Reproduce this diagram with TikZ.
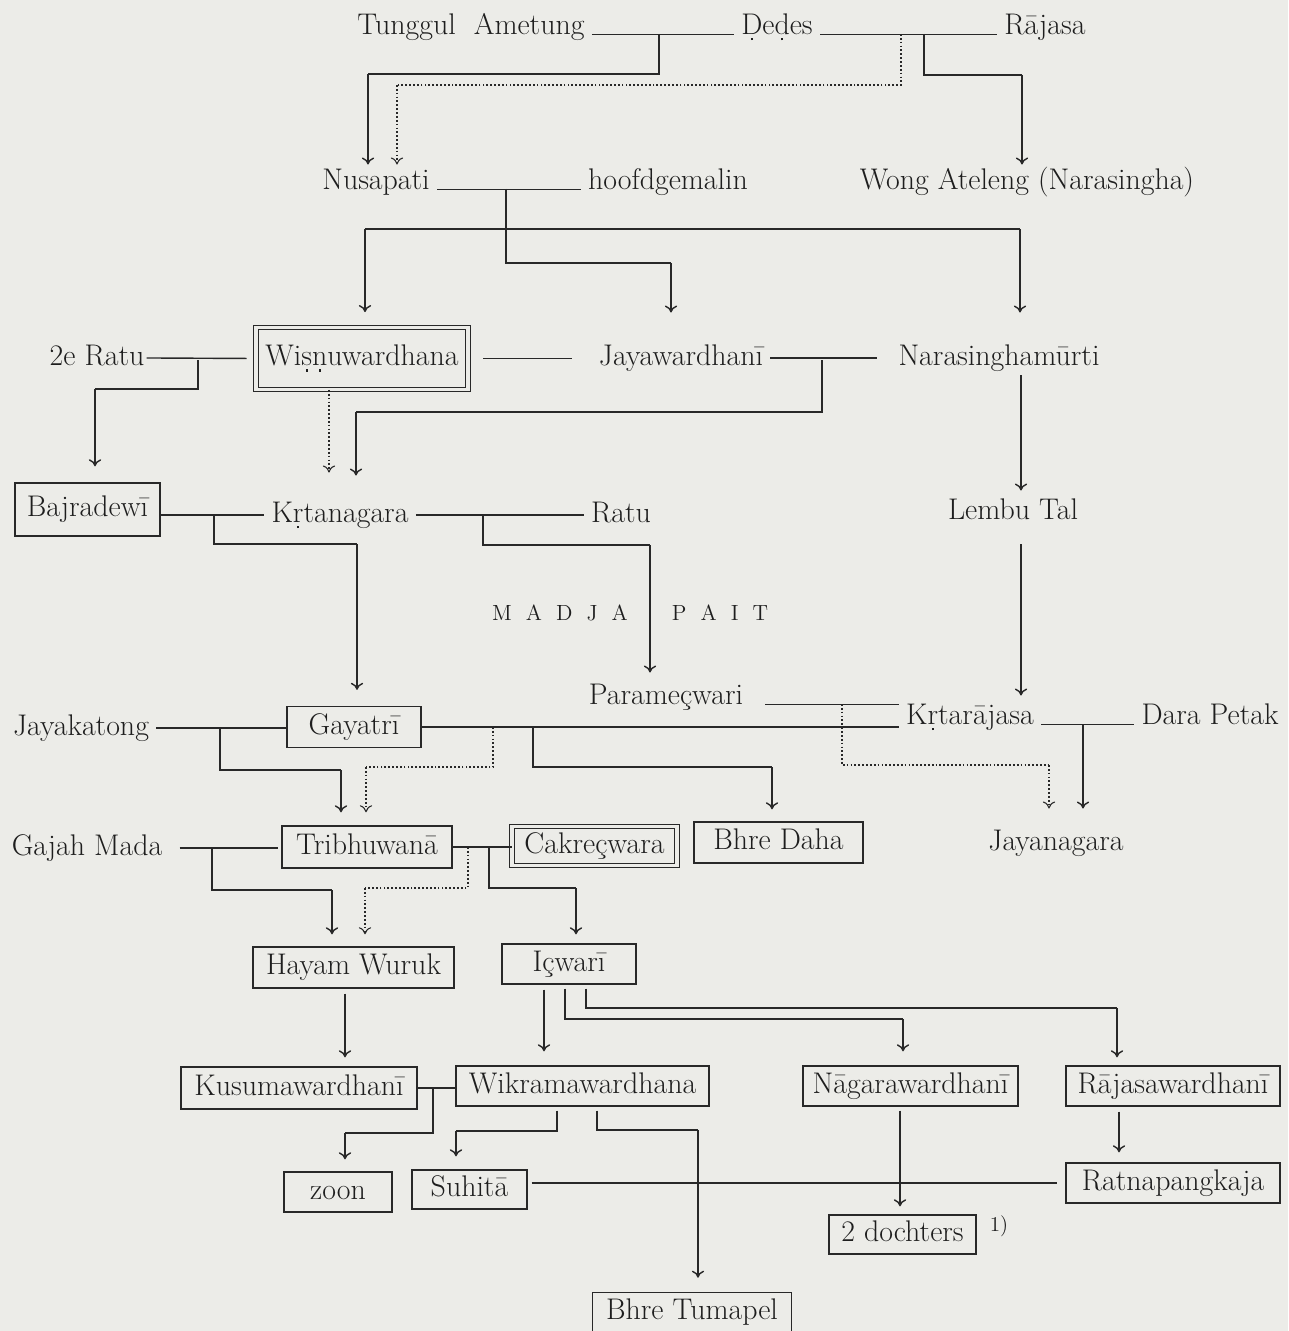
\documentclass[tikz,border=0pt]{standalone}
\usetikzlibrary{arrows.meta}
\definecolor{bgc}{RGB}{236,236,232}
\definecolor{ink}{RGB}{40,40,40}
\definecolor{txtc}{RGB}{30,30,30}
\newcommand\udot[1]{\oalign{#1\crcr\hidewidth\rule{1.4pt}{1.4pt}\hidewidth}}
\begin{document}
\begin{tikzpicture}[x=0.02cm, y=-0.02cm,
  txt/.style={font=\fontsize{17}{20}\selectfont, text=txtc, inner xsep=4pt, inner ysep=2pt, text height=12pt, text depth=3.5pt},
  bx/.style={txt, draw=ink, line width=0.8pt, inner xsep=0pt},
  dbx/.style={txt, draw=ink, line width=0.5pt, double=bgc, double distance=2.2pt, inner xsep=0pt},
  ln/.style={draw=ink, line width=0.8pt},
  arr/.style={ln, -{To[length=4pt,width=7pt]}},
  dotln/.style={draw=ink, line width=0.6pt, dash pattern=on 1pt off 1.2pt},
  dotarr/.style={dotln, -{To[length=4pt,width=7pt]}},
  spaced/.style={font=\fontsize{12.5}{15}\selectfont, text=txtc}
]
\path[use as bounding box, fill=bgc] (0,0) rectangle (1288,1331);

% ---------- row 1
\node[txt] (tung) at (471,27) {Tunggul\ \ Ametung};
\node[txt] (dedes) at (777,27) {\udot{D}e\udot{d}es};
\node[txt] (raja) at (1045,27) {Rājasa};
% ---------- row 2
\node[txt] (nusa) at (376,182) {Nusapati};
\node[txt] (hoof) at (668,182) {hoofdgemalin};
\node[txt] (wong) at (1027,182) {Wong Ateleng (Narasingha)};
% ---------- row 3
\node[txt] (ratu2) at (97,358) {2e Ratu};
\node[dbx, minimum width=4.24cm, minimum height=1.24cm] (wis) at (362,358.5) {Wi\udot{s}\udot{n}uwardhana};
\node[txt] (jaya) at (681,358) {Jayawardhanī};
\node[txt] (nara) at (999,358) {Narasinghamūrti};
% ---------- row 4
\node[bx, minimum width=2.9cm, minimum height=1.06cm] (bajra) at (87.5,509.5) {Bajradewī};
\node[txt] (krta) at (340,515) {K\udot{r}tanagara};
\node[txt] (ratu) at (621,515) {Ratu};
\node[txt] (lemb) at (1013,512) {Lembu Tal};
\node[spaced] (madja) at (560,613) {M\hspace{8pt}A\hspace{8pt}D\hspace{8pt}J\hspace{8pt}A};
\node[spaced] (pait) at (720,613) {P\hspace{8pt}A\hspace{8pt}I\hspace{8pt}T};
% ---------- row 5
\node[txt] (para) at (666,697) {Parameçwari};
\node[txt] (jkat) at (81,728) {Jayakatong};
\node[bx, minimum width=2.68cm, minimum height=0.82cm] (gay) at (354,727) {Gayatrī};
\node[txt] (krtr) at (970,717) {K\udot{r}tarājasa};
\node[txt] (dara) at (1210,717) {Dara Petak};
% ---------- row 6
\node[txt] (gaja) at (87,848) {Gajah Mada};
\node[bx, minimum width=3.4cm, minimum height=0.84cm] (trib) at (367,847) {Tribhuwanā};
\node[dbx, minimum width=3.3cm, minimum height=0.78cm] (cakr) at (594.5,846) {Cakreçwara};
\node[bx, minimum width=3.38cm, minimum height=0.82cm] (daha) at (778.5,842.5) {Bhre Daha};
\node[txt] (jnag) at (1056,843) {Jayanagara};
% ---------- row 7
\node[bx, minimum width=4.02cm, minimum height=0.82cm] (hw) at (353.5,967.5) {Hayam Wuruk};
\node[bx, minimum width=2.68cm, minimum height=0.8cm] (icw) at (569,964) {Içwarī};
% ---------- row 8
\node[bx, minimum width=4.72cm, minimum height=0.84cm] (kusu) at (299,1088) {Kusumawardhanī};
\node[bx, minimum width=5.06cm, minimum height=0.8cm] (wikr) at (582.5,1086) {Wikramawardhana};
\node[bx, minimum width=4.3cm, minimum height=0.8cm] (naga) at (910.5,1086) {Nāgarawardhanī};
\node[bx, minimum width=4.28cm, minimum height=0.8cm] (rajw) at (1173,1086) {Rājasawardhanī};
% ---------- row 9
\node[bx, minimum width=2.16cm, minimum height=0.8cm] (zoon) at (338,1192) {zoon};
\node[bx, minimum width=2.3cm, minimum height=0.78cm] (suhi) at (469.5,1189.5) {Suhitā};
\node[bx, minimum width=4.28cm, minimum height=0.8cm] (ratn) at (1173,1183) {Ratnapangkaja};
\node[bx, minimum width=2.94cm, minimum height=0.78cm] (doch) at (902.5,1234.5) {2 dochters};
\node[txt, font=\fontsize{12}{14}\selectfont] (fn) at (999,1224) {1)};
\node[txt, minimum width=3.96cm, minimum height=0.76cm] (bt) at (692,1312) {Bhre Tumapel};
\draw[ln] (bt.south west) -- (bt.north west) -- (bt.north east) -- (bt.south east);

% ================= connectors
% row 1
\draw[ln] (tung.base east) -- (dedes.base west);
\draw[ln] (dedes.base east) -- (raja.base west);
\coordinate (m1) at (659,34);
\coordinate (m2d) at (901,34);
\coordinate (m2) at (924,34);
\draw[ln] (m1) -- (659,74) -- (368,74);
\draw[arr] (368,74) -- (368,74 |- nusa.north);
\draw[dotln] (m2d) -- (901,85) -- (397,85);
\draw[dotarr] (397,85) -- (397,85 |- nusa.north);
\draw[ln] (m2) -- (924,75) -- (1022,75);
\draw[arr] (1022,75) -- (1022,75 |- wong.north);
% row 2
\draw[ln] (nusa.base east) -- (hoof.base west);
\coordinate (m3) at (506,189);
\draw[ln] (m3) -- (506,263) -- (671,263);
\draw[arr, shorten >=0.56cm] (671,263) -- (671,263 |- jaya.north);
\draw[ln] (365,229) -- (1020,229);
\draw[arr, shorten >=0.3cm] (365,229) -- (365,229 |- wis.north);
\draw[arr, shorten >=0.56cm] (1020,229) -- (1020,229 |- nara.north);
% row 3
\draw[ln, shorten <=-0.1cm, shorten >=0.18cm] (ratu2.east) -- (wis.west);
\draw[ln, shorten <=0.3cm, shorten >=0.4cm] (wis.east) -- (wis.east -| jaya.west);
\draw[ln, shorten >=0.28cm] (jaya.east) -- (nara.west);
\coordinate (m4) at (198,360);
\draw[ln] (m4) -- (198,389) -- (95,389);
\draw[arr, shorten >=0.32cm] (95,389) -- (95,389 |- bajra.north);
\draw[dotarr, shorten >=0.5cm] (329,0 |- wis.south) -- (329,0 |- krta.north);
\coordinate (m5) at (822,360);
\draw[ln] (m5) -- (822,412) -- (356,412);
\draw[arr, shorten >=0.44cm] (356,412) -- (356,412 |- krta.north);
\draw[arr, shorten >=0.08cm] (1021,0 |- nara.south) -- (1021,0 |- lemb.north);
% row 4
\draw[ln] (bajra.east |- krta.west) -- (krta.west);
\draw[ln] (krta.east) -- (ratu.west);
\coordinate (m6) at (214,515);
\draw[ln] (m6) -- (214,544) -- (357,544);
\draw[arr, shorten >=0.32cm] (357,544) -- (357,544 |- gay.north);
\coordinate (m7) at (483,515);
\draw[ln] (m7) -- (483,545) -- (650,545);
\draw[arr, shorten >=0.14cm] (650,545) -- (650,545 |- para.north);
\draw[arr, shorten <=0.3cm, shorten >=0.08cm] (1021,0 |- lemb.south) -- (1021,0 |- krtr.north);
% row 5
\draw[ln, shorten <=0.3cm] (para.base east) -- (para.base east -| krtr.west);
\draw[ln] (jkat.east) -- (jkat.east -| gay.west);
\draw[ln] (gay.east) -- (gay.east -| krtr.west);
\draw[ln] (krtr.base east) -- (dara.base west);
\coordinate (m8) at (220,728);
\draw[ln] (m8) -- (220,770) -- (341,770);
\draw[arr, shorten >=0.26cm] (341,770) -- (341,770 |- trib.north);
\coordinate (m9) at (493,727);
\draw[dotln] (m9) -- (493,767) -- (366,767);
\draw[dotarr, shorten >=0.26cm] (366,767) -- (366,767 |- trib.north);
\coordinate (m10) at (533,727);
\draw[ln] (m10) -- (533,767) -- (772,767);
\draw[arr, shorten >=0.24cm] (772,767) -- (772,767 |- daha.north);
\coordinate (m11) at (842,704);
\draw[dotln] (m11) -- (842,765) -- (1049,765);
\draw[dotarr, shorten >=0.34cm] (1049,765) -- (1049,765 |- jnag.north);
\coordinate (m12) at (1083,724);
\draw[arr, shorten >=0.34cm] (m12) -- (1083,724 |- jnag.north);
% row 6
\draw[ln, shorten <=0.2cm, shorten >=0.06cm] (gaja.east) -- (gaja.east -| trib.west);
\draw[ln] (trib.east) -- (trib.east -| cakr.west);
\coordinate (m13) at (212,848);
\draw[ln] (m13) -- (212,890) -- (332,890);
\draw[arr, shorten >=0.24cm] (332,890) -- (332,890 |- hw.north);
\coordinate (m14) at (468,847);
\draw[dotln] (m14) -- (468,888) -- (365,888);
\draw[dotarr, shorten >=0.24cm] (365,888) -- (365,888 |- hw.north);
\coordinate (m15) at (489,847);
\draw[ln] (m15) -- (489,888) -- (576,888);
\draw[arr, shorten >=0.18cm] (576,888) -- (576,888 |- icw.north);
% row 7
\draw[arr, shorten <=0.1cm, shorten >=0.18cm] (345,0 |- hw.south) -- (345,0 |- kusu.north);
\draw[arr, shorten <=0.1cm, shorten >=0.28cm] (544,0 |- icw.south) -- (544,0 |- wikr.north);
\draw[ln, shorten <=0.08cm] (565,0 |- icw.south) -- (565,1019) -- (903,1019);
\draw[arr, shorten >=0.28cm] (903,1019) -- (903,1019 |- naga.north);
\draw[ln, shorten <=0.08cm] (586,0 |- icw.south) -- (586,1008) -- (1117,1008);
\draw[arr, shorten >=0.16cm] (1117,1008) -- (1117,1008 |- rajw.north);
% row 8
\draw[ln] (kusu.east) -- (kusu.east -| wikr.west);
\coordinate (m16) at (433,1088);
\draw[ln] (m16) -- (433,1133) -- (345,1133);
\draw[arr, shorten >=0.24cm] (345,1133) -- (345,1133 |- zoon.north);
\draw[ln, shorten <=0.08cm] (557,0 |- wikr.south) -- (557,1131) -- (456,1131);
\draw[arr, shorten >=0.26cm] (456,1131) -- (456,1131 |- suhi.north);
\draw[ln, shorten <=0.08cm] (597,0 |- wikr.south) -- (597,1130) -- (698,1130);
\draw[arr, shorten >=0.3cm] (698,1130) -- (698,1130 |- bt.north);
\draw[arr, shorten <=0.08cm, shorten >=0.16cm] (900,0 |- naga.south) -- (900,0 |- doch.north);
\draw[arr, shorten <=0.1cm, shorten >=0.2cm] (1119,0 |- rajw.south) -- (1119,0 |- ratn.north);
% row 9
\draw[ln, shorten <=0.08cm, shorten >=0.16cm] (suhi.east |- ratn.west) -- (ratn.west);
\end{tikzpicture}
\end{document}
